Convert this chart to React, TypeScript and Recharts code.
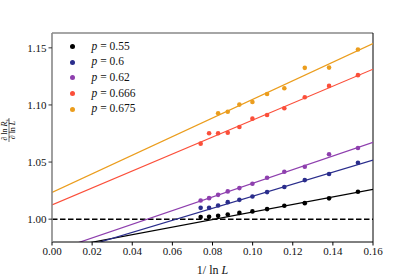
import { ComposedChart, Scatter, Line, XAxis, YAxis, ReferenceLine } from "recharts";

const invLnL = [0.0741, 0.0783, 0.0828, 0.0876, 0.0934, 0.0999, 0.1072, 0.1158, 0.126, 0.1381, 0.1525];

const p055 = [1.0018, 1.002, 1.0029, 1.0041, 1.0055, 1.0068, 1.0088, 1.0117, 1.014, 1.0182, 1.024];
const p060 = [1.0099, 1.0099, 1.012, 1.0149, 1.0169, 1.0199, 1.0237, 1.0281, 1.0342, 1.0395, 1.0494];
const p062 = [1.0164, 1.0184, 1.0213, 1.0243, 1.0272, 1.031, 1.0362, 1.0415, 1.0459, 1.0568, 1.0623];
const p0666 = [1.0661, 1.0752, 1.0752, 1.0757, 1.0807, 1.088, 1.0912, 1.0971, 1.1068, 1.1167, 1.1261];
// p = 0.675 starts at the third L
const p0675 = [1.0927, 1.0941, 1.1003, 1.1026, 1.1096, 1.1146, 1.1325, 1.1327, 1.1485];

// linear fits, values at x = 0 and x = 0.16
const fitX = [0, 0.16];
const fit055 = [0.9732, 1.026];
const fit060 = [0.9673, 1.0518];
const fit062 = [0.9716, 1.0673];
const fit0666 = [1.0125, 1.1313];
const fit0675 = [1.0234, 1.1538];

const xTicks = [0, 0.02, 0.04, 0.06, 0.08, 0.1, 0.12, 0.14, 0.16];
const yTicks = [1.0, 1.05, 1.1, 1.15];
const yMax = 1.163;

const labels = ["0.55", "0.6", "0.62", "0.666", "0.675"];
const colors = ["#000000", "#2a2d8c", "#8e3fae", "#fb4f3a", "#eb9d1d"];

const font = "'Liberation Serif', 'DejaVu Serif', serif";

const series = [
  { vals: p055, xs: invLnL, fit: fit055 },
  { vals: p060, xs: invLnL, fit: fit060 },
  { vals: p062, xs: invLnL, fit: fit062 },
  { vals: p0666, xs: invLnL, fit: fit0666 },
  { vals: p0675, xs: invLnL.slice(2), fit: fit0675 },
];

const pts = (xs: number[], ys: number[]) => xs.map((x, i) => ({ x, y: ys[i] }));

function Dot(props: any) {
  const { cx, cy, fill } = props;
  if (cx == null || cy == null) return null;
  return <circle cx={cx} cy={cy} r={2.3} fill={fill} />;
}

// matplotlib-style legend, top left inside the axes
function LegendBox() {
  return (
    <div style={{ position: "absolute", left: 69.5, top: 38.5, fontFamily: font, fontSize: 11.5, color: "#111", lineHeight: "15.7px" }}>
      {labels.map((l, i) => (
        <div key={l} style={{ display: "flex", alignItems: "center", height: 15.7 }}>
          <span style={{ display: "inline-block", width: 5, height: 5, borderRadius: "50%", background: colors[i], marginRight: 17 }} />
          <span>
            <i>p</i> = {l}
          </span>
        </div>
      ))}
    </div>
  );
}

function YLabel() {
  return (
    <g transform="translate(0,130) rotate(-90)" fontFamily={font} fontSize={8} fill="#111">
      <text x={0} y={7} textAnchor="middle">
        ∂ ln <tspan fontStyle="italic">R</tspan>
        <tspan fontSize={5.5} dy={1.5}>s</tspan>
      </text>
      <line x1={-12} x2={12} y1={9} y2={9} stroke="#111" strokeWidth={0.6} />
      <text x={0} y={15} textAnchor="middle">
        ∂ ln <tspan fontStyle="italic">L</tspan>
      </text>
    </g>
  );
}

function XLabel() {
  return (
    <text x={212.5} y={274} textAnchor="middle" fontFamily={font} fontSize={12} fill="#111">
      1/ ln <tspan fontStyle="italic">L</tspan>
    </text>
  );
}

export default function App() {
  return (
    <div style={{ position: "absolute", left: 0, top: 0, width: 415, height: 277, background: "#fff" }}>
      <ComposedChart width={415} height={277} margin={{ top: 33, right: 42, bottom: 0, left: 12 }}>
        <XAxis
          dataKey="x"
          type="number"
          domain={[0, 0.16]}
          ticks={xTicks}
          allowDataOverflow
          tickFormatter={(v: number) => v.toFixed(2)}
          height={35}
          axisLine={{ stroke: "#000", strokeWidth: 1 }}
          tickLine={{ stroke: "#000" }}
          tickSize={3.5}
          tick={{ fontFamily: font, fontSize: 11, fill: "#111" }}
          label={{ content: () => <XLabel /> }}
        />
        <YAxis
          dataKey="y"
          type="number"
          domain={[0.98, yMax]}
          ticks={yTicks}
          allowDataOverflow
          tickFormatter={(v: number) => v.toFixed(2)}
          width={40}
          axisLine={{ stroke: "#888", strokeWidth: 1.6 }}
          tickLine={{ stroke: "#333" }}
          tickSize={3.5}
          tick={{ fontFamily: font, fontSize: 11, fill: "#111" }}
          label={{ content: () => <YLabel /> }}
        />
        <ReferenceLine y={yMax} stroke="#888" strokeWidth={1.6} ifOverflow="visible" />
        <ReferenceLine x={0.16} stroke="#000" strokeWidth={1} ifOverflow="visible" />
        <ReferenceLine y={1.0} stroke="#000" strokeWidth={1.5} strokeDasharray="5.5 2.5" />
        {series.map((s, i) => (
          <Line
            key={"fit" + i}
            data={pts(fitX, s.fit)}
            dataKey="y"
            stroke={colors[i]}
            strokeWidth={1.2}
            dot={false}
            activeDot={false}
            legendType="none"
            isAnimationActive={false}
          />
        ))}
        {series.map((s, i) => (
          <Scatter
            key={"pts" + i}
            name={labels[i]}
            data={pts(s.xs, s.vals)}
            fill={colors[i]}
            shape={<Dot />}
            isAnimationActive={false}
          />
        ))}
      </ComposedChart>
      <LegendBox />
    </div>
  );
}
